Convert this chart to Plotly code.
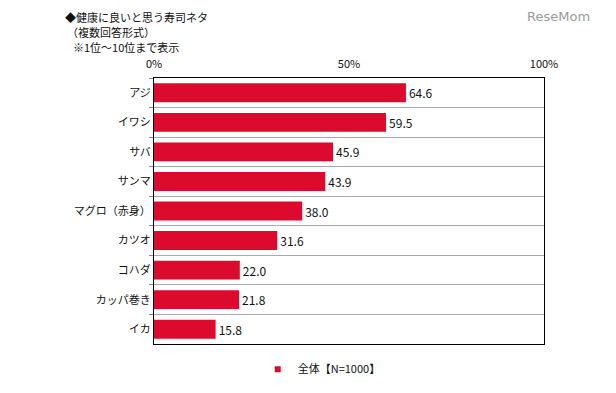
import plotly.graph_objects as go

categories = ["アジ", "イワシ", "サバ", "サンマ", "マグロ（赤身）", "カツオ", "コハダ", "カッパ巻き", "イカ"]
values = [64.6, 59.5, 45.9, 43.9, 38.0, 31.6, 22.0, 21.8, 15.8]
series_name = "全体【N=1000】"
x_tickvals = [0, 50, 100]
x_ticktext = ["0%", "50%", "100%"]
title_lines = ["◆健康に良いと思う寿司ネタ", "（複数回答形式）", "※1位～10位まで表示"]

FONT = "Noto Sans CJK JP, Noto Sans, sans-serif"
RED = "#DC0A2D"

fig = go.Figure()
fig.add_trace(go.Bar(
    y=categories, x=values, orientation="h", name=series_name,
    marker=dict(color=RED, line=dict(width=0)),
    width=0.64,
    text=values, texttemplate="%{x:.1f}", textposition="outside",
    textfont=dict(size=12, color="#111111", family=FONT),
    cliponaxis=False, showlegend=False,
))
# legend entry with a small square marker
fig.add_trace(go.Scatter(
    x=[None], y=[None], mode="markers", name=series_name,
    marker=dict(symbol="square", size=6, color=RED), showlegend=True,
))

title_pos = [(-0.231, 1.263), (-0.226, 1.207), (-0.21, 1.152)]
annotations = [
    dict(text=t, xref="paper", yref="paper", x=px, y=py,
         xanchor="left", yanchor="top", align="left", showarrow=False,
         borderpad=0, font=dict(size=11, family=FONT, color="#111111"))
    for t, (px, py) in zip(title_lines, title_pos)
]
annotations.append(dict(
    text="ReseMom", xref="paper", yref="paper", x=1.038, y=1.263,
    xanchor="center", yanchor="top", showarrow=False, borderpad=0,
    font=dict(size=13, color="#9A9A9A", family="DejaVu Sans"),
))

fig.update_layout(
    width=608, height=385,
    margin=dict(l=146, r=72, t=70, b=49, autoexpand=False),
    paper_bgcolor="white", plot_bgcolor="white",
    font=dict(family=FONT, size=11, color="#111111"),
    xaxis=dict(
        range=[0, 100], side="top", tickvals=x_tickvals, ticktext=x_ticktext,
        showgrid=False, zeroline=False, showline=True, linecolor="black",
        linewidth=1, mirror=True, ticks="", ticklabelstandoff=5,
        tickfont=dict(size=11, family=FONT), automargin=False,
    ),
    yaxis=dict(
        autorange="reversed", type="category", tickson="boundaries",
        showgrid=True, gridcolor="#AAAAAA", gridwidth=1,
        showline=True, linecolor="black", linewidth=1, mirror=True,
        ticks="outside", ticklen=4, tickcolor="#888888",
        tickfont=dict(size=11, family=FONT), automargin=False,
    ),
    legend=dict(
        orientation="h", x=0.43, xanchor="center", y=-0.04, yanchor="top",
        font=dict(size=11, family=FONT), itemwidth=30,
    ),
    annotations=annotations,
)

fig.write_html("out.html")
